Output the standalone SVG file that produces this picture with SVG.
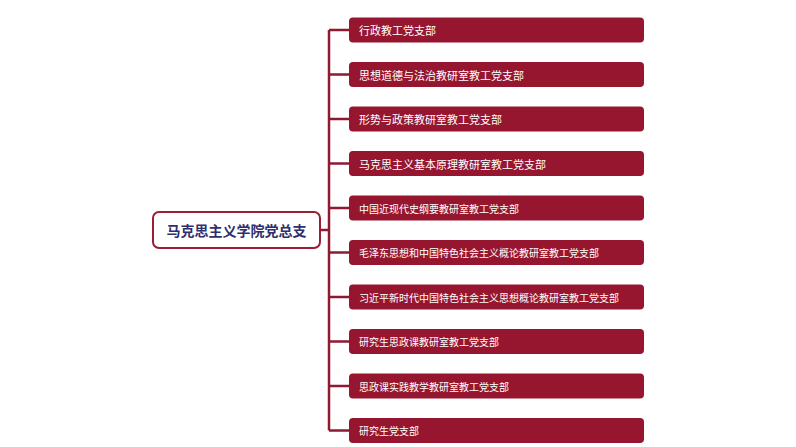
<svg xmlns="http://www.w3.org/2000/svg" width="796" height="447" viewBox="0 0 796 447">
<style>
.box{fill:#96162F;}
.bt{fill:#ffffff;font-family:"Noto Sans CJK SC","Noto Sans",sans-serif;dominant-baseline:central;}
.ln{stroke:#8E1A32;stroke-width:2.5;fill:none;}
.root{fill:#ffffff;stroke:#9A1D36;stroke-width:2;}
.rt{fill:#2E2F6E;font-family:"Noto Sans CJK SC","Noto Sans",sans-serif;font-weight:bold;font-size:14px;dominant-baseline:central;}
</style>
<rect width="796" height="447" fill="#ffffff"/>
<g id="connectors">
<path class="ln" d="M320 230 H329 M329 30 V430.5"/>
<path class="ln" d="M329 30 H349 M329 74.5 H349 M329 119 H349 M329 163.5 H349 M329 208 H349 M329 252.5 H349 M329 297 H349 M329 341.5 H349 M329 386 H349 M329 430.5 H349"/>
</g>
<g id="root"><rect class="root" x="153" y="212" width="167" height="36" rx="6"/><text class="rt" x="236.5" y="230" text-anchor="middle">马克思主义学院党总支</text></g>
<g id="n1"><rect class="box" x="349" y="17.5" width="295" height="25" rx="4"/><text class="bt" x="359" y="30" font-size="11">行政教工党支部</text></g>
<g id="n2"><rect class="box" x="349" y="62" width="295" height="25" rx="4"/><text class="bt" x="359" y="74.5" font-size="11">思想道德与法治教研室教工党支部</text></g>
<g id="n3"><rect class="box" x="349" y="106.5" width="295" height="25" rx="4"/><text class="bt" x="359" y="119" font-size="11">形势与政策教研室教工党支部</text></g>
<g id="n4"><rect class="box" x="349" y="151" width="295" height="25" rx="4"/><text class="bt" x="359" y="163.5" font-size="11">马克思主义基本原理教研室教工党支部</text></g>
<g id="n5"><rect class="box" x="349" y="195.5" width="295" height="25" rx="4"/><text class="bt" x="359" y="208" font-size="10">中国近现代史纲要教研室教工党支部</text></g>
<g id="n6"><rect class="box" x="349" y="240" width="295" height="25" rx="4"/><text class="bt" x="359" y="252.5" font-size="10">毛泽东思想和中国特色社会主义概论教研室教工党支部</text></g>
<g id="n7"><rect class="box" x="349" y="284.5" width="295" height="25" rx="4"/><text class="bt" x="359" y="297" font-size="10">习近平新时代中国特色社会主义思想概论教研室教工党支部</text></g>
<g id="n8"><rect class="box" x="349" y="329" width="295" height="25" rx="4"/><text class="bt" x="359" y="341.5" font-size="10">研究生思政课教研室教工党支部</text></g>
<g id="n9"><rect class="box" x="349" y="373.5" width="295" height="25" rx="4"/><text class="bt" x="359" y="386" font-size="10">思政课实践教学教研室教工党支部</text></g>
<g id="n10"><rect class="box" x="349" y="418" width="295" height="25" rx="4"/><text class="bt" x="359" y="430.5" font-size="10">研究生党支部</text></g>
</svg>
